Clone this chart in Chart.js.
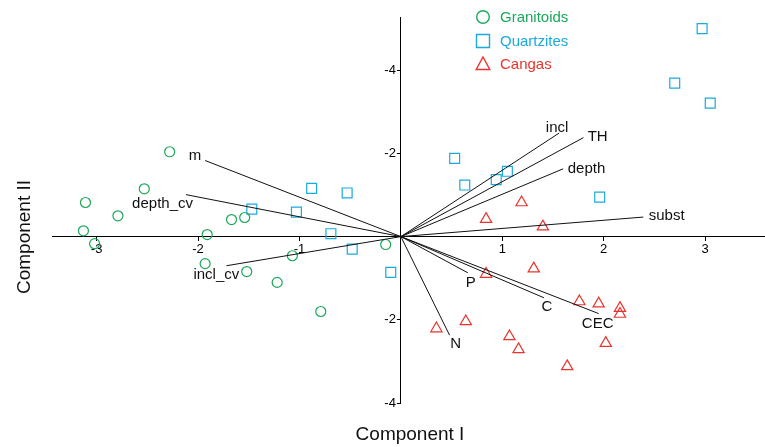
<!DOCTYPE html>
<html><head><meta charset="utf-8">
<script src="https://cdn.jsdelivr.net/npm/chart.js@4.4.0/dist/chart.umd.min.js"></script>
<style>html,body{margin:0;padding:0;background:#fff}</style>
</head><body>
<canvas id="c" width="765" height="447"></canvas>
<script>
// ---- data ----
const seriesNames = ['Granitoids', 'Quartzites', 'Cangas'];
const granitoidsX = [-2.28,-3.11,-2.53,-2.79,-3.13,-3.02,-1.91,-1.67,-1.54,-1.93,-1.52,-1.07,-1.22,-0.79,-0.15];
const granitoidsY = [2.04,0.82,1.15,0.50,0.14,-0.17,0.05,0.41,0.46,-0.65,-0.84,-0.46,-1.10,-1.80,-0.19];
const quartzitesX = [-0.88,-0.53,-1.47,-1.03,-0.69,-0.48,-0.10,0.53,0.63,0.94,1.05,1.96,2.97,2.70,3.05];
const quartzitesY = [1.16,1.05,0.66,0.59,0.07,-0.30,-0.86,1.88,1.24,1.37,1.57,0.95,5.00,3.69,3.21];
const cangasX = [1.19,0.84,1.40,1.31,0.84,1.76,1.95,2.16,2.16,0.64,0.35,1.07,2.02,1.16,1.64];
const cangasY = [0.82,0.42,0.24,-0.77,-0.90,-1.56,-1.61,-1.72,-1.86,-2.04,-2.21,-2.40,-2.56,-2.71,-3.12];

const loadingNames = ['m','depth_cv','incl_cv','incl','TH','depth','subst','P','C','CEC','N'];
const loadingX = [-1.93,-2.12,-1.72,1.56,1.80,1.60,2.39,0.66,1.41,1.95,0.48];
const loadingY = [1.83,1.01,-0.70,2.49,2.38,1.63,0.47,-0.87,-1.47,-1.85,-2.37];
const loadingLabelX = [-2.03,-2.35,-1.82,1.54,1.94,1.83,2.62,0.69,1.44,1.94,0.54];
const loadingLabelY = [1.95,0.79,-0.91,2.61,2.41,1.62,0.49,-1.11,-1.69,-2.09,-2.59];

const xTicks = [-3,-2,-1,1,2,3];
const xTickLabels = ['-3','-2','-1','1','2','3'];
const yTicks = [4,2,-2,-4];
const yTickLabels = ['-4','-2','-2','-4'];
const xTitle = 'Component I';
const yTitle = 'Component II';

// ---- styles ----
const FONT = "'Liberation Sans', Arial, Helvetica, sans-serif";
const colors = ['#1aa95a', '#1aaade', '#e8342e'];
const styles = ['circle', 'rect', 'triangle'];
const radii = [5, 7, 6.5];
const AREA = {left: 52, right: 765, top: 17, bottom: 403};

const zip = (xs, ys) => xs.map((x, i) => ({x, y: ys[i]}));
const pointSets = [zip(granitoidsX, granitoidsY), zip(quartzitesX, quartzitesY), zip(cangasX, cangasY)];

const datasets = [];
loadingNames.forEach((n, i) => {
  datasets.push({
    label: n, type: 'scatter', showLine: true,
    data: [{x: 0, y: 0}, {x: loadingX[i], y: loadingY[i]}],
    borderColor: '#111', borderWidth: 1, pointRadius: 0, pointHoverRadius: 0, fill: false
  });
});
seriesNames.forEach((n, i) => {
  datasets.push({
    label: n, type: 'scatter', data: pointSets[i],
    pointStyle: styles[i], pointRadius: radii[i], pointBorderWidth: 1.2,
    borderColor: colors[i], backgroundColor: 'rgba(0,0,0,0)', pointBackgroundColor: 'rgba(0,0,0,0)'
  });
});

// fix the plot area and make the y axis cross x = 0
const crossAxis = {
  id: 'crossAxis',
  afterLayout(chart) {
    const ca = chart.chartArea;
    ca.left = AREA.left; ca.right = AREA.right; ca.width = AREA.right - AREA.left;
    const x = chart.scales.x;
    x.left = AREA.left; x.right = AREA.right; x.width = AREA.right - AREA.left;
    x.configure();
    const y = chart.scales.y;
    const x0 = x.getPixelForValue(0);
    y.left = x0 - 40; y.right = x0; y.width = 40;
  }
};

const overlay = {
  id: 'overlay',
  afterDraw(chart) {
    const ctx = chart.ctx;
    const xs = chart.scales.x, ys = chart.scales.y;
    ctx.save();
    // loading labels
    ctx.fillStyle = '#111';
    ctx.font = '15px ' + FONT;
    ctx.textAlign = 'center';
    ctx.textBaseline = 'middle';
    loadingNames.forEach((n, i) => {
      ctx.fillText(n, xs.getPixelForValue(loadingLabelX[i]), ys.getPixelForValue(loadingLabelY[i]));
    });
    // legend
    const lx = 483, ly = [17, 41, 64];
    seriesNames.forEach((n, i) => {
      ctx.strokeStyle = colors[i];
      ctx.lineWidth = 1.4;
      ctx.beginPath();
      if (i === 0) { ctx.arc(lx, ly[i], 6.3, 0, Math.PI * 2); }
      else if (i === 1) { ctx.rect(lx - 6.5, ly[i] - 6.5, 13, 13); }
      else { ctx.moveTo(lx, ly[i] - 7); ctx.lineTo(lx + 6.8, ly[i] + 5.5); ctx.lineTo(lx - 6.8, ly[i] + 5.5); ctx.closePath(); }
      ctx.stroke();
      ctx.fillStyle = colors[i];
      ctx.textAlign = 'left';
      ctx.font = '15px ' + FONT;
      ctx.fillText(n, 500, ly[i] + 1);
    });
    // axis titles
    ctx.fillStyle = '#111';
    ctx.font = '19px ' + FONT;
    ctx.textAlign = 'center';
    ctx.fillText(xTitle, 410, 435);
    ctx.translate(25, 237);
    ctx.rotate(-Math.PI / 2);
    ctx.fillText(yTitle, 0, 0);
    ctx.restore();
  }
};

new Chart(document.getElementById('c'), {
  type: 'scatter',
  data: {datasets},
  options: {
    responsive: false, animation: false, devicePixelRatio: 1,
    layout: {padding: {left: 52, right: 0, top: 17, bottom: 44}},
    plugins: {legend: {display: false}, tooltip: {enabled: false}},
    scales: {
      x: {
        type: 'linear', min: -3.44, max: 3.59, position: {y: 0},
        border: {display: true, color: '#000', width: 1},
        grid: {display: true, drawOnChartArea: false, drawTicks: true, tickLength: 4, color: '#000'},
        ticks: {color: '#000', font: {family: FONT, size: 13}, padding: 1, maxRotation: 0,
          callback: (v, i) => xTickLabels[i]},
        afterBuildTicks: s => { s.ticks = xTicks.map(v => ({value: v})); },
        afterFit: s => { s.height = 0; s.paddingLeft = 0; s.paddingRight = 0; s.paddingTop = 0; s.paddingBottom = 0; }
      },
      y: {
        type: 'linear', min: -4, max: 5.28, position: 'left',
        border: {display: true, color: '#000', width: 1},
        grid: {display: true, drawOnChartArea: false, drawTicks: true, tickLength: 4, color: '#000'},
        ticks: {color: '#000', font: {family: FONT, size: 13}, padding: 1,
          callback: (v, i) => yTickLabels[i]},
        afterBuildTicks: s => { s.ticks = yTicks.map(v => ({value: v})); },
        afterFit: s => { s.width = 0; s.paddingLeft = 0; s.paddingRight = 0; s.paddingTop = 0; s.paddingBottom = 0; }
      }
    }
  },
  plugins: [crossAxis, overlay]
});
</script>
</body></html>
